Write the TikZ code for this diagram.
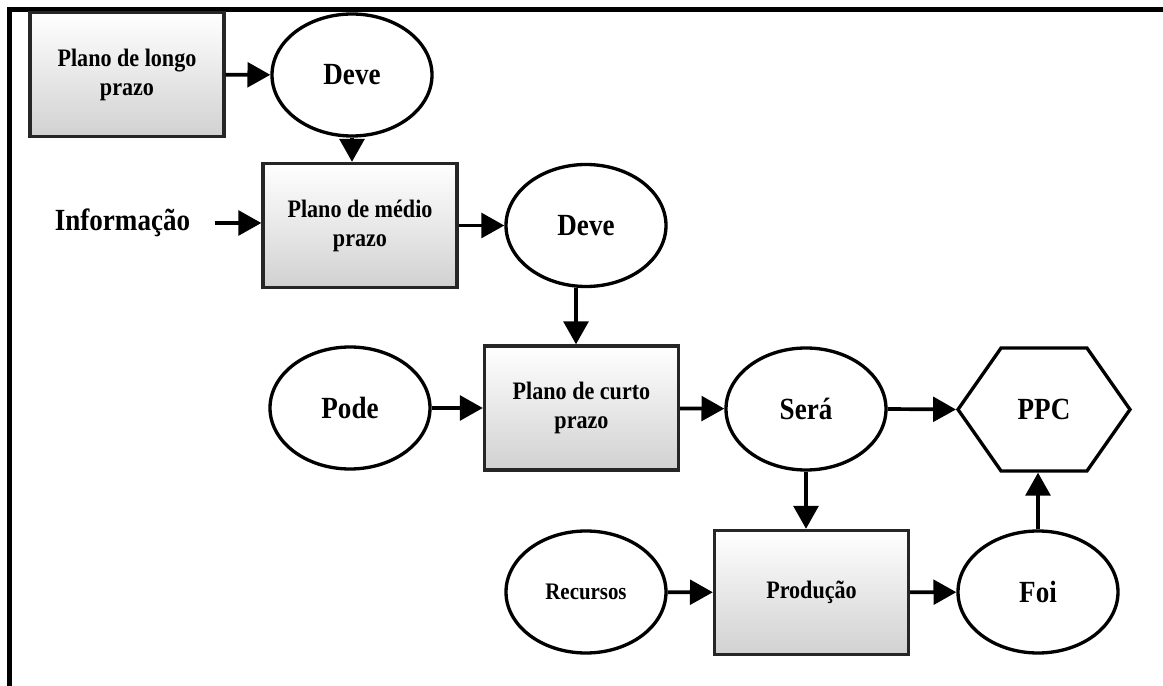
\documentclass[tikz,border=0pt]{standalone}
\usepackage{fontspec}
\setmainfont{Liberation Serif}[FakeStretch=0.88]
\usetikzlibrary{arrows.meta,shapes.geometric,shapes.symbols}

\begin{document}
\begin{tikzpicture}[
		plano/.style={rectangle, draw=black!85, line width=1.9pt, top color=white, bottom color=black!18, minimum width=3.88cm, minimum height=2.48cm, align=center, font=\bfseries\fontsize{14.3}{16.5}\selectfont},
		elipse/.style={ellipse, draw, line width=1.9pt, minimum width=3.2cm, minimum height=2.44cm, font=\bfseries\fontsize{17.5}{20}\selectfont},
		hexa/.style={signal, signal to=west and east, signal pointer angle=110, draw, line width=1.9pt, minimum width=3.44cm, minimum height=2.46cm, font=\bfseries\fontsize{17.5}{20}\selectfont},
		seta/.style={line width=2.1pt, -{Triangle[length=13pt,width=14pt]}}
	]

		\useasboundingbox (0,0) rectangle (23.26,-13.72);

		% Frame
		\draw[line width=2.4pt] (0.19,-13.72) -- (0.19,-0.19) -- (23.26,-0.19);

		% Nodes
		\node[plano] (longo) at (2.54,-1.49) {Plano de longo\\prazo};
		\node[elipse] (deveA) at (7.04,-1.50) {Deve};
		\node[font=\bfseries\fontsize{17.5}{20}\selectfont, inner sep=0pt] (info) at (2.45,-4.46) {Informação};
		\node[plano] (medio) at (7.20,-4.51) {Plano de médio\\prazo};
		\node[elipse] (deveB) at (11.72,-4.51) {Deve};
		\node[elipse] (pode) at (7.00,-8.16) {Pode};
		\node[plano] (curto) at (11.63,-8.16) {Plano de curto\\prazo};
		\node[elipse] (sera) at (16.12,-8.18) {Será};
		\node[hexa] (ppc) at (20.88,-8.19) {PPC};
		\node[elipse, font=\bfseries\fontsize{13.5}{16}\selectfont] (recursos) at (11.72,-11.84) {Recursos};
		\node[plano] (producao) at (16.23,-11.85) {Produção};
		\node[elipse] (foi) at (20.76,-11.84) {Foi};

		% Edges
		\draw[seta] (longo) -- (deveA);
		\draw[seta] (deveA.south) -- (deveA.south |- medio.north);
		\draw[seta] ([xshift=0.5cm]info.east) -- (info.east -| medio.west);
		\draw[seta] (medio) -- (deveB);
		\draw[seta] ([xshift=-0.2cm]deveB.south) -- ([xshift=-0.2cm]deveB.south |- curto.north);
		\draw[seta] (pode) -- (curto);
		\draw[seta] (curto) -- (sera);
		\draw[seta] (sera.east) -- (ppc.west);
		\draw[seta] (sera.south) -- (sera.south |- producao.north);
		\draw[seta] (recursos) -- (producao);
		\draw[seta] (producao) -- (foi);
		\draw[seta] (foi.north) -- (foi.north |- ppc.south);

	\end{tikzpicture}
\end{document}
